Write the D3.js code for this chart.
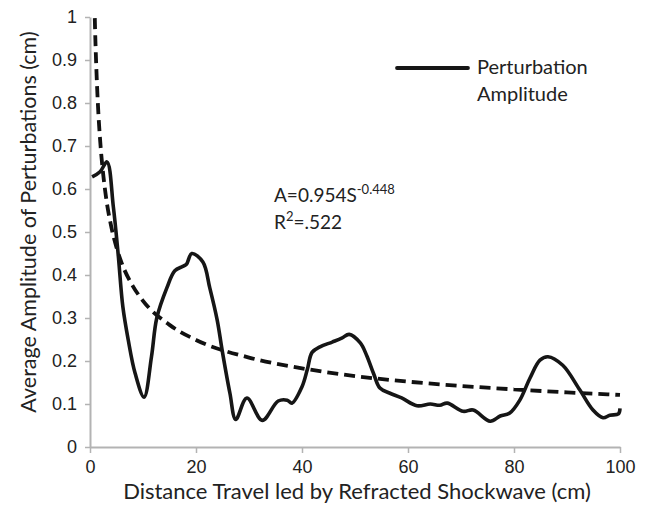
<!DOCTYPE html>
<html>
<head>
<meta charset="utf-8">
<script src="https://cdn.jsdelivr.net/npm/d3@7"></script>
<style>
  body { margin: 0; background: #fff; }
  svg { font-family: Lato, "Open Sans", sans-serif; }
</style>
</head>
<body>
<svg id="chart" width="648" height="505"></svg>
<script>
// perturbation amplitude
const distance = [0.4, 1.9, 3.2, 4.4, 5.3, 6.2, 7.2, 8.5, 10.2, 11.6, 12.6, 14.5, 16, 17.5, 18.2, 19.2, 21.3, 22.6, 24, 25, 26.4, 27.5,
  29.6, 32.5, 35.5, 37.2, 38.1, 40, 41, 41.9, 43.4, 45.7, 47.5, 48.9, 51, 52.2, 53.5, 54.7, 56.6, 58.8, 61.7, 64.2,
  66, 67.4, 70.4, 72.3, 75.5, 77.4, 79.2, 81.1, 83, 84.9, 86.4, 89.2, 92.4, 94.9, 96.8, 98.1, 99.7, 100];
const amplitude = [0.628, 0.64, 0.663, 0.559, 0.45, 0.326, 0.25, 0.172, 0.116, 0.21, 0.3, 0.37, 0.41, 0.42, 0.425, 0.45, 0.43, 0.37, 0.295, 0.22, 0.125, 0.064,
  0.114, 0.062, 0.107, 0.109, 0.102, 0.14, 0.18, 0.22, 0.233, 0.244, 0.253, 0.262, 0.242, 0.213, 0.171, 0.137, 0.125, 0.114, 0.096, 0.1,
  0.097, 0.102, 0.083, 0.086, 0.06, 0.072, 0.079, 0.109, 0.16, 0.202, 0.21, 0.19, 0.133, 0.086, 0.068, 0.074, 0.077, 0.09];

// power trendline A = 0.954 S^-0.448
const trendDistance = [0.3, 0.6, 0.9, 1.2, 1.5, 2, 2.5, 3, 4, 5, 6, 8, 10, 15, 20, 30, 40, 50, 60, 70, 80, 90, 100];
const trendAmplitude = [1.63, 1.2, 1.0, 0.88, 0.795, 0.699, 0.633, 0.583, 0.513, 0.464, 0.427, 0.376, 0.34, 0.284, 0.249, 0.208, 0.183, 0.165, 0.152, 0.142, 0.134, 0.127, 0.121];

const xTicks = [0, 20, 40, 60, 80, 100];
const yTicks = [0, 0.1, 0.2, 0.3, 0.4, 0.5, 0.6, 0.7, 0.8, 0.9, 1];
const yTickLabels = ['0', '0.1', '0.2', '0.3', '0.4', '0.5', '0.6', '0.7', '0.8', '0.9', '1'];

const svg = d3.select('#chart');
const x = d3.scaleLinear().domain([0, 100]).range([90, 620]);
const y = d3.scaleLinear().domain([0, 1]).range([447, 17]);
const axisColor = '#b3b3b3';

svg.append('defs').append('clipPath').attr('id', 'plot')
  .append('rect').attr('x', 90).attr('y', 17).attr('width', 540).attr('height', 430);

// x axis
const xAxis = svg.append('g').attr('transform', `translate(0,${y(0)})`)
  .call(d3.axisBottom(x).tickValues(xTicks).tickSize(6).tickSizeOuter(0).tickPadding(7));
xAxis.select('.domain').attr('stroke', axisColor).attr('stroke-width', 2);
xAxis.selectAll('.tick line').attr('stroke', axisColor).attr('stroke-width', 1.5);
xAxis.selectAll('.tick text').attr('font-size', 18).attr('fill', '#222');

// y axis
const yAxis = svg.append('g').attr('transform', `translate(${x(0)},0)`)
  .call(d3.axisLeft(y).tickValues(yTicks).tickFormat((d, i) => yTickLabels[i]).tickSize(5).tickSizeOuter(0).tickPadding(8));
yAxis.select('.domain').attr('stroke', axisColor).attr('stroke-width', 2);
yAxis.selectAll('.tick line').attr('stroke', axisColor).attr('stroke-width', 1.5);
yAxis.selectAll('.tick text').attr('font-size', 18).attr('fill', '#222');

// axis titles
svg.append('text')
  .attr('x', 357).attr('y', 499)
  .attr('text-anchor', 'middle').attr('font-size', 22).attr('fill', '#222')
  .text('Distance Travel led by Refracted Shockwave (cm)');

svg.append('text')
  .attr('transform', 'translate(36,222) rotate(-90)')
  .attr('text-anchor', 'middle').attr('font-size', 21.5).attr('fill', '#222')
  .text('Average Amplitude of Perturbations (cm)');

const plot = svg.append('g').attr('clip-path', 'url(#plot)');

// trendline
const trend = trendDistance.map((d, i) => [d, trendAmplitude[i]]);
plot.append('path')
  .datum(trend)
  .attr('fill', 'none')
  .attr('stroke', '#111')
  .attr('stroke-width', 3.8)
  .attr('stroke-dasharray', '11,6')
  .attr('d', d3.line().x(d => x(d[0])).y(d => y(d[1])).curve(d3.curveMonotoneX));

// measured amplitude
const series = distance.map((d, i) => [d, amplitude[i]]);
plot.append('path')
  .datum(series)
  .attr('fill', 'none')
  .attr('stroke', '#161616')
  .attr('stroke-width', 3.6)
  .attr('stroke-linejoin', 'round')
  .attr('d', d3.line().x(d => x(d[0])).y(d => y(d[1])).curve(d3.curveCatmullRom.alpha(0.5)));

// legend
svg.append('line')
  .attr('x1', 397).attr('x2', 468).attr('y1', 68).attr('y2', 68)
  .attr('stroke', '#161616').attr('stroke-width', 3.8).attr('stroke-linecap', 'round');
svg.append('text').attr('x', 477).attr('y', 74).attr('font-size', 20).attr('fill', '#222').text('Perturbation');
svg.append('text').attr('x', 477).attr('y', 101).attr('font-size', 20).attr('fill', '#222').text('Amplitude');

// fit annotation
const eq = svg.append('text').attr('x', 274).attr('y', 202).attr('font-size', 19).attr('fill', '#222');
eq.append('tspan').text('A=0.954S');
eq.append('tspan').attr('dy', -8).attr('font-size', 13).text('-0.448');
const r2 = svg.append('text').attr('x', 274).attr('y', 229).attr('font-size', 19).attr('fill', '#222');
r2.append('tspan').text('R');
r2.append('tspan').attr('dy', -8).attr('font-size', 13).text('2');
r2.append('tspan').attr('dy', 8).text('=.522');
</script>
</body>
</html>
